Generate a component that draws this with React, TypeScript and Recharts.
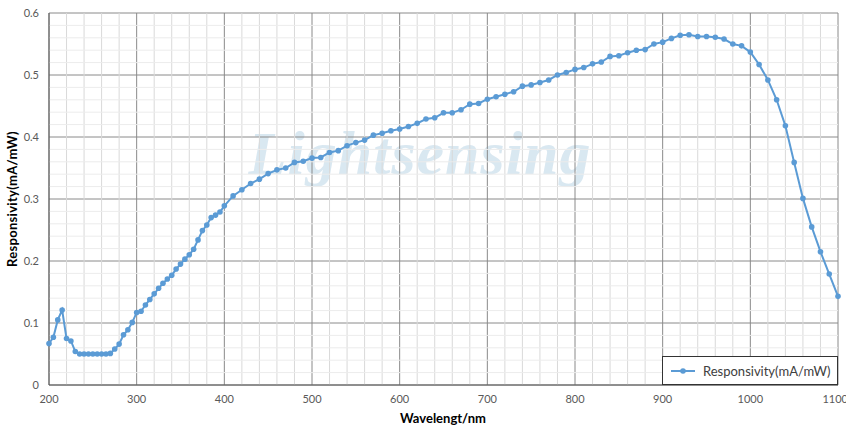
import { LineChart, Line, XAxis, YAxis, CartesianGrid, ReferenceLine } from "recharts";

document.body.style.margin = "0";

const wavelengths = [
  200, 205, 210, 215, 220, 225, 230, 235, 240, 245, 250, 255, 260, 265, 270, 275, 280, 285, 290, 295,
  300, 305, 310, 315, 320, 325, 330, 335, 340, 345, 350, 355, 360, 365, 370, 375, 380, 385, 390, 395,
  400, 410, 420, 430, 440, 450, 460, 470, 480, 490, 500, 510, 520, 530, 540, 550, 560, 570, 580, 590,
  600, 610, 620, 630, 640, 650, 660, 670, 680, 690, 700, 710, 720, 730, 740, 750, 760, 770, 780, 790,
  800, 810, 820, 830, 840, 850, 860, 870, 880, 890, 900, 910, 920, 930, 940, 950, 960, 970, 980, 990,
  1000, 1010, 1020, 1030, 1040, 1050, 1060, 1070, 1080, 1090, 1100,
];

const responsivity = [
  0.067, 0.077, 0.105, 0.121, 0.075, 0.071, 0.054, 0.05, 0.05, 0.05, 0.05, 0.05, 0.05, 0.05, 0.051, 0.058, 0.066, 0.081, 0.089, 0.101,
  0.117, 0.119, 0.129, 0.138, 0.147, 0.156, 0.164, 0.171, 0.177, 0.187, 0.195, 0.203, 0.21, 0.219, 0.234, 0.249, 0.258, 0.27, 0.274, 0.279,
  0.289, 0.305, 0.315, 0.325, 0.332, 0.341, 0.347, 0.35, 0.359, 0.361, 0.366, 0.367, 0.375, 0.378, 0.386, 0.391, 0.395, 0.403, 0.406, 0.41,
  0.413, 0.417, 0.422, 0.429, 0.431, 0.439, 0.439, 0.444, 0.453, 0.454, 0.461, 0.465, 0.469, 0.473, 0.482, 0.484, 0.488, 0.492, 0.5, 0.504,
  0.509, 0.512, 0.518, 0.521, 0.53, 0.531, 0.536, 0.54, 0.541, 0.55, 0.553, 0.559, 0.564, 0.565, 0.562, 0.562, 0.561, 0.558, 0.55, 0.547,
  0.537, 0.517, 0.492, 0.46, 0.418, 0.359, 0.301, 0.255, 0.215, 0.179, 0.143,
];

const xTicks = [200, 300, 400, 500, 600, 700, 800, 900, 1000, 1100];
const yTicks = [0, 0.1, 0.2, 0.3, 0.4, 0.5, 0.6];

// minor grid
const xMinor = [
  220, 240, 260, 280, 320, 340, 360, 380, 420, 440, 460, 480, 520, 540, 560, 580, 620, 640, 660, 680,
  720, 740, 760, 780, 820, 840, 860, 880, 920, 940, 960, 980, 1020, 1040, 1060, 1080,
];
const yMinor = [
  0.02, 0.04, 0.06, 0.08, 0.12, 0.14, 0.16, 0.18, 0.22, 0.24, 0.26, 0.28, 0.32, 0.34, 0.36, 0.38,
  0.42, 0.44, 0.46, 0.48, 0.52, 0.54, 0.56, 0.58,
];

const seriesName = "Responsivity(mA/mW)";
const data = wavelengths.map((wl, i) => ({ wl, r: responsivity[i] }));

const BLUE = "#5b9bd5";
const tickStyle = { fill: "#595959", fontSize: 11, fontFamily: "Lato" };

export default function App() {
  return (
    <div style={{ position: "relative", width: 846, height: 427, background: "#fff", overflow: "hidden" }}>
      <div
        style={{
          position: "absolute",
          left: 230,
          top: 118,
          width: 380,
          textAlign: "center",
          fontFamily: "Liberation Serif",
          fontStyle: "italic",
          fontWeight: "bold",
          fontSize: 62,
          color: "#d3e4ef",
          opacity: 0.85,
          letterSpacing: 1,
        }}
      >
        Lightsensing
      </div>
      <LineChart
        width={846}
        height={427}
        data={data}
        margin={{ top: 13, right: 8, left: 0, bottom: 0 }}
        style={{ position: "absolute", left: 0, top: 0 }}
      >
        {xMinor.map((v) => (
          <ReferenceLine key={"x" + v} x={v} stroke="#d9d9d9" strokeWidth={1} />
        ))}
        {yMinor.map((v) => (
          <ReferenceLine key={"y" + v} y={v} stroke="#ececec" strokeWidth={1} />
        ))}
        <CartesianGrid stroke="#8a8a8a" strokeWidth={1} />
        <XAxis
          dataKey="wl"
          type="number"
          domain={[200, 1100]}
          ticks={xTicks}
          height={42}
          tick={tickStyle}
          tickLine={false}
          tickSize={0}
          tickMargin={10}
          axisLine={{ stroke: "#595959" }}
        />
        <YAxis
          type="number"
          domain={[0, 0.6]}
          ticks={yTicks}
          width={49}
          tick={tickStyle}
          tickLine={false}
          tickSize={0}
          tickMargin={10}
          axisLine={{ stroke: "#595959" }}
          tickFormatter={(v: number) => String(v)}
        />
        <Line
          dataKey="r"
          name={seriesName}
          type="linear"
          stroke={BLUE}
          strokeWidth={2}
          dot={{ r: 2.8, fill: BLUE, stroke: BLUE, strokeWidth: 0 }}
          isAnimationActive={false}
        />
      </LineChart>
      <div
        style={{
          position: "absolute",
          left: -88,
          top: 190,
          width: 200,
          textAlign: "center",
          transform: "rotate(-90deg)",
          fontFamily: "Lato",
          fontWeight: "bold",
          fontSize: 13,
          color: "#000",
          lineHeight: "18px",
          letterSpacing: 0.3,
        }}
      >
        {seriesName}
      </div>
      <div
        style={{
          position: "absolute",
          left: 343,
          top: 409,
          width: 200,
          textAlign: "center",
          fontFamily: "Lato",
          fontWeight: "bold",
          fontSize: 13,
          color: "#000",
          lineHeight: "18px",
        }}
      >
        Wavelengt/nm
      </div>
      <div
        style={{
          position: "absolute",
          left: 662,
          top: 356,
          width: 174,
          height: 27,
          border: "1px solid #333",
          background: "#fff",
          display: "flex",
          alignItems: "center",
          fontFamily: "Lato",
          fontSize: 13,
          color: "#404040",
        }}
      >
        <svg width={30} height={10} style={{ marginLeft: 7, marginRight: 3 }}>
          <line x1={1} y1={5} x2={25} y2={5} stroke={BLUE} strokeWidth={2} />
          <circle cx={13} cy={5} r={2.8} fill={BLUE} />
        </svg>
        <span>{seriesName}</span>
      </div>
    </div>
  );
}
